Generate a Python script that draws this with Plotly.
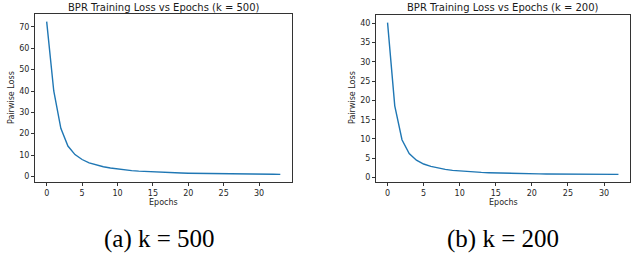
import plotly.graph_objects as go

epochs_a = list(range(34))
loss_a = [72.5, 40.0, 22.5, 14.2, 10.2, 7.9, 6.3, 5.3, 4.5, 3.9, 3.4, 3.0, 2.7, 2.45, 2.25,
          2.05, 1.9, 1.75, 1.65, 1.55, 1.47, 1.4, 1.33, 1.27, 1.22, 1.17, 1.13, 1.09, 1.06,
          1.03, 1.0, 0.98, 0.96, 0.94]
epochs_b = list(range(33))
loss_b = [40.2, 18.6, 9.8, 6.2, 4.5, 3.5, 2.9, 2.45, 2.1, 1.85, 1.68, 1.54, 1.42, 1.32, 1.24,
          1.17, 1.11, 1.06, 1.02, 0.99, 0.96, 0.93, 0.91, 0.89, 0.87, 0.86, 0.85, 0.84, 0.83,
          0.82, 0.81, 0.8, 0.8]
titles = ["BPR Training Loss vs Epochs (k = 500)", "BPR Training Loss vs Epochs (k = 200)"]
captions = ["(a) k = 500", "(b) k = 200"]
xticks = [0, 5, 10, 15, 20, 25, 30]
yticks_a = [0, 10, 20, 30, 40, 50, 60, 70]
yticks_b = [0, 5, 10, 15, 20, 25, 30, 35, 40]

W, H = 631, 255
fig = go.Figure()
line = dict(color="#1f77b4", width=1.4)
fig.add_trace(go.Scatter(x=epochs_a, y=loss_a, mode="lines", line=line, xaxis="x", yaxis="y"))
fig.add_trace(go.Scatter(x=epochs_b, y=loss_b, mode="lines", line=line, xaxis="x2", yaxis="y2"))

tickfont = dict(family="DejaVu Sans", size=8, color="#262626")
axcommon = dict(showgrid=False, zeroline=False, showline=True, linecolor="#333333", linewidth=1,
                mirror=True, ticks="outside", ticklen=3, tickwidth=0.8, tickcolor="#333333",
                tickfont=tickfont)

def span(lo, hi):
    m = (hi - lo) * 0.05
    return [lo - m, hi + m]

dom_a_x = [35 / W, 292 / W]
dom_b_x = [376 / W, 630 / W]
dom_y = [(H - 182) / H, (H - 14) / H]
dom_y2 = [(H - 182) / H, (H - 15) / H]

fig.update_layout(
    width=W, height=H, margin=dict(l=0, r=0, t=0, b=0),
    paper_bgcolor="white", plot_bgcolor="white", showlegend=False,
    xaxis=dict(domain=dom_a_x, range=span(0, 33), tickvals=xticks, anchor="y", **axcommon),
    yaxis=dict(domain=dom_y, range=span(min(loss_a), max(loss_a)), tickvals=yticks_a, anchor="x", **axcommon),
    xaxis2=dict(domain=dom_b_x, range=span(0, 32), tickvals=xticks, anchor="y2", **axcommon),
    yaxis2=dict(domain=dom_y2, range=span(min(loss_b), max(loss_b)), tickvals=yticks_b, anchor="x2", **axcommon),
)

lab = dict(family="DejaVu Sans", size=8, color="#262626")
ann = []
for i, (x0, x1, ytop) in enumerate([(35, 292, 14), (376, 630, 15)]):
    cx = (x0 + x1) / 2 / W
    ann.append(dict(text=titles[i], x=cx, y=(H - 7) / H, xref="paper", yref="paper",
                    showarrow=False, font=dict(family="DejaVu Sans", size=10, color="#1a1a1a"),
                    xanchor="center", yanchor="middle"))
    ann.append(dict(text="Epochs", x=cx, y=(H - 202) / H, xref="paper", yref="paper",
                    showarrow=False, font=lab, xanchor="center", yanchor="middle"))
    ann.append(dict(text=captions[i], x=[159, 503][i] / W, y=(H - 239) / H, xref="paper", yref="paper",
                    showarrow=False, font=dict(family="Liberation Serif", size=25, color="black"),
                    xanchor="center", yanchor="middle"))
ann.append(dict(text="Pairwise Loss", x=12 / W, y=(H - 98) / H, xref="paper", yref="paper",
                showarrow=False, font=lab, textangle=-90, xanchor="center", yanchor="middle"))
ann.append(dict(text="Pairwise Loss", x=353 / W, y=(H - 98) / H, xref="paper", yref="paper",
                showarrow=False, font=lab, textangle=-90, xanchor="center", yanchor="middle"))
fig.update_layout(annotations=ann)

fig.write_html("out.html", config={"displayModeBar": False},
               post_script="document.body.style.margin='0';document.body.style.overflow='hidden';")
